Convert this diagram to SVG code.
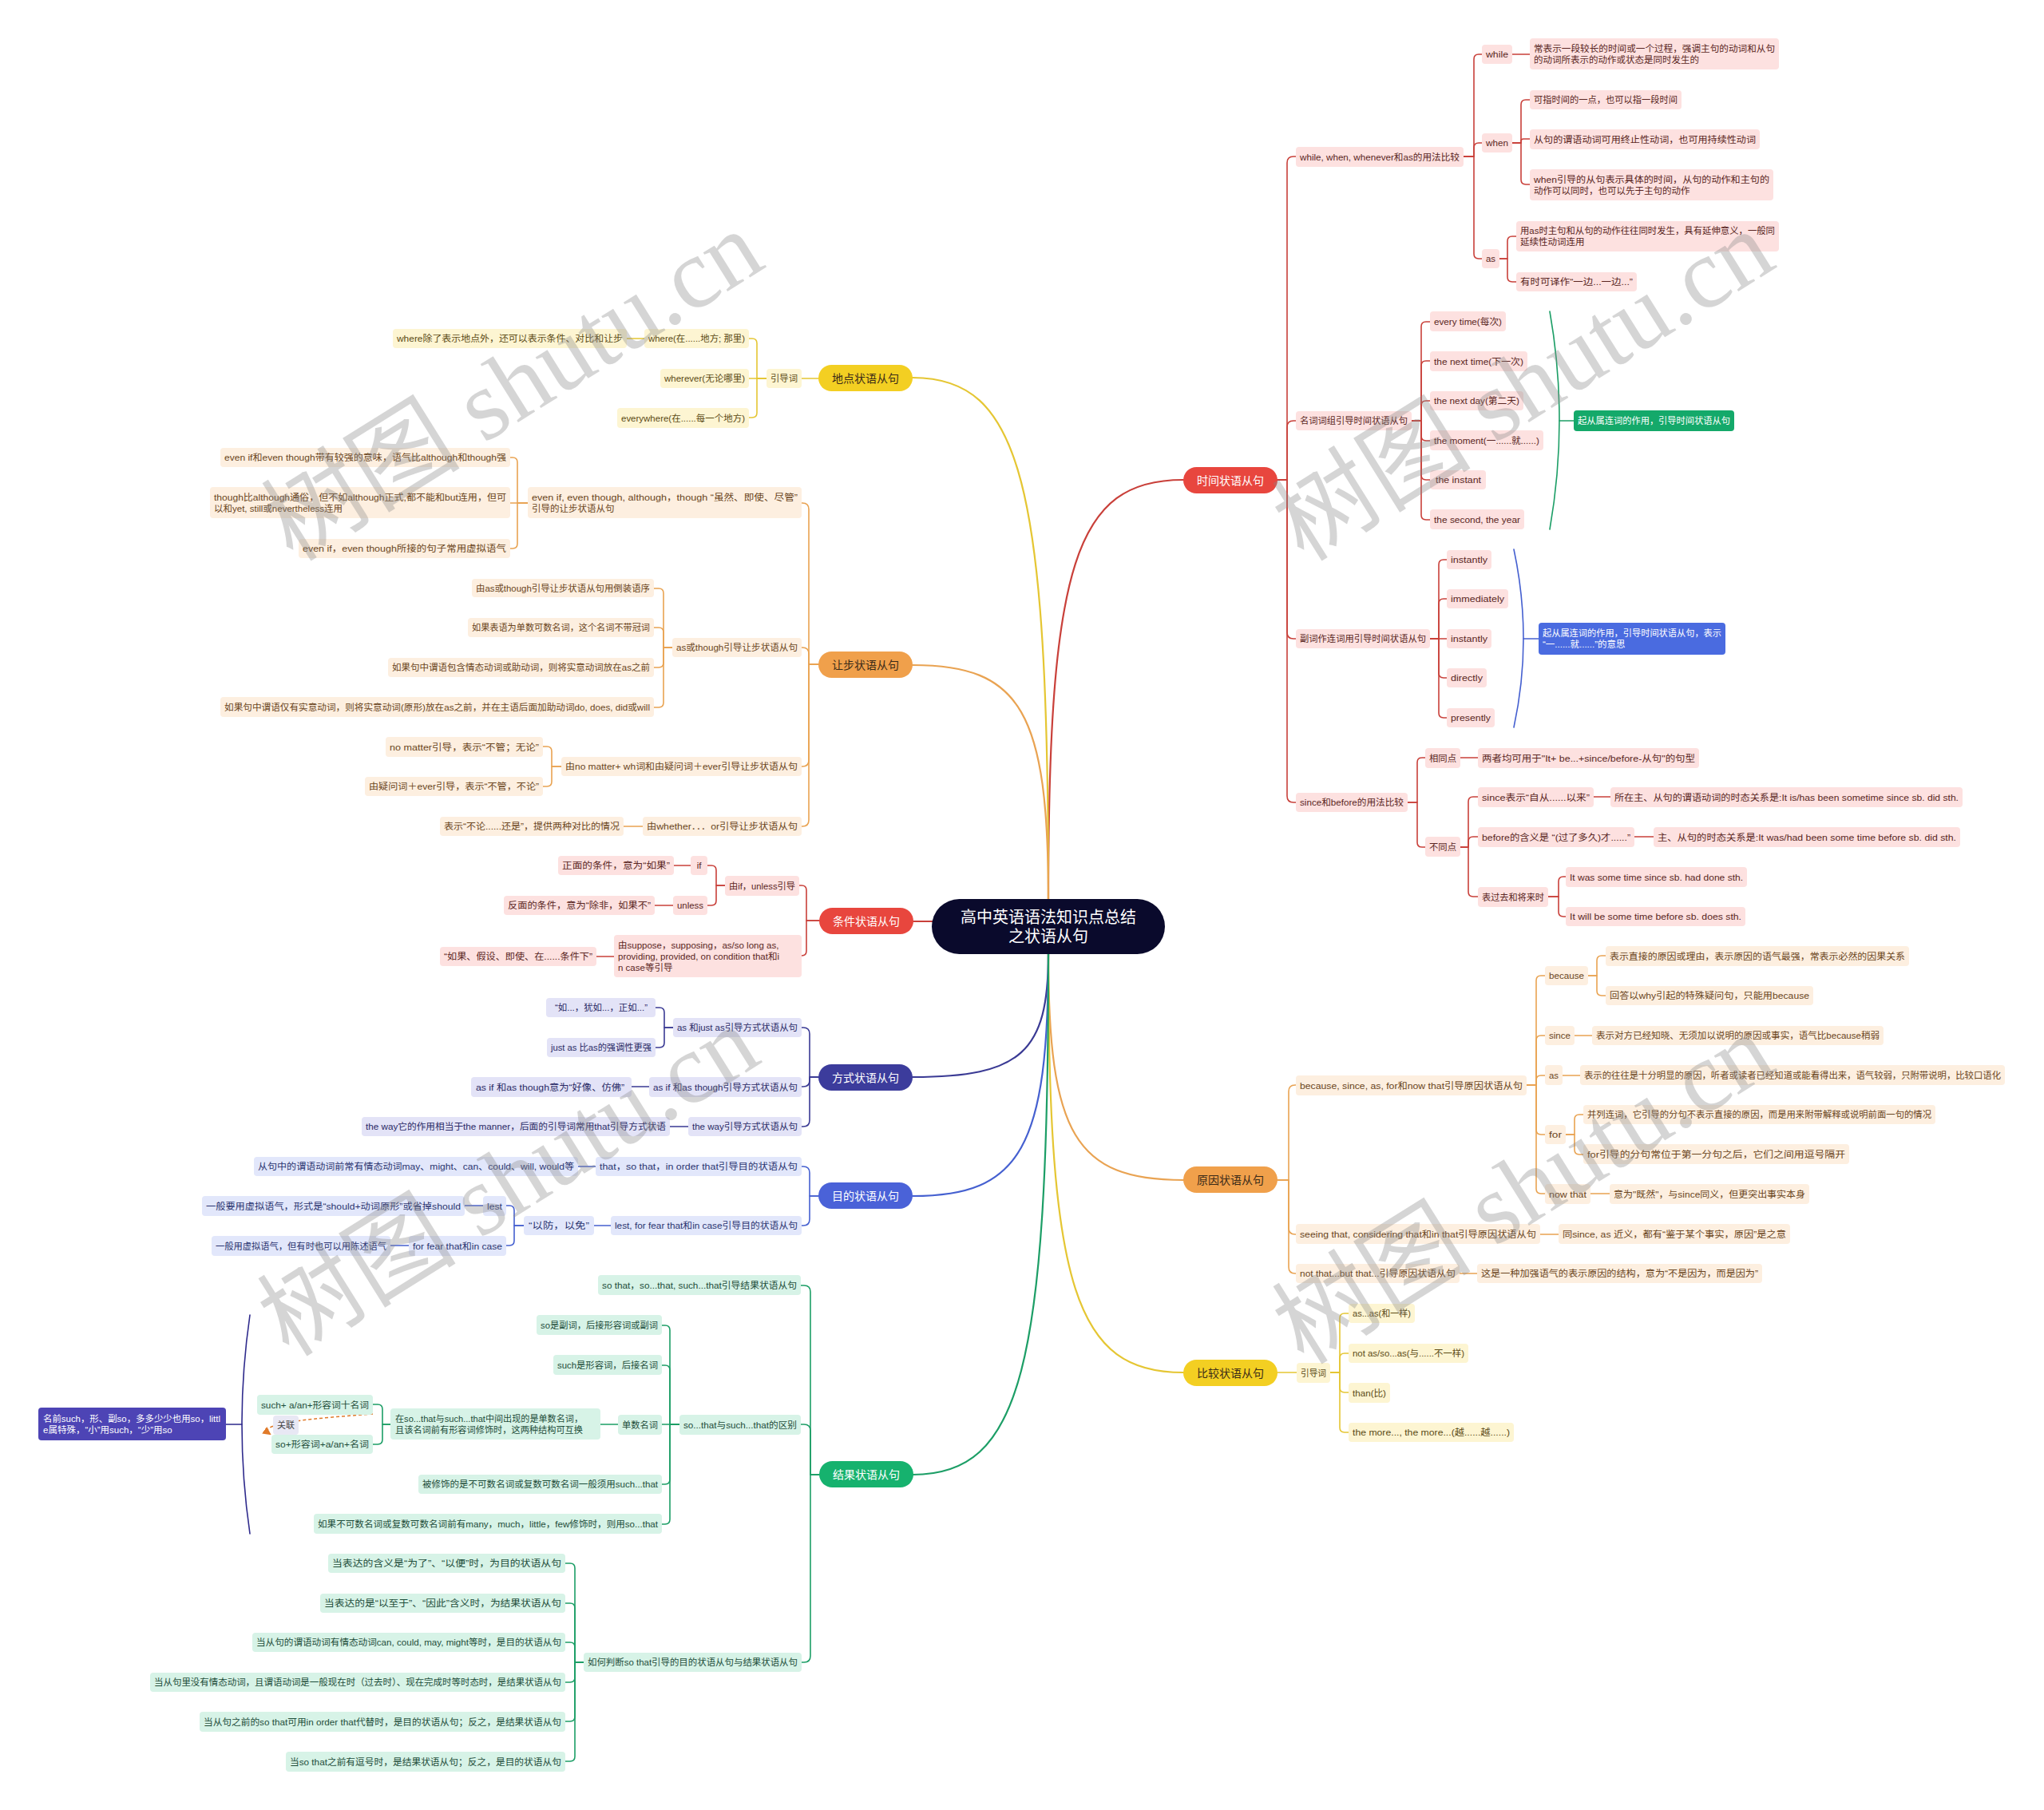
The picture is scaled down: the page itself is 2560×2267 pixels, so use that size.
<svg xmlns="http://www.w3.org/2000/svg" width="2560" height="2267" viewBox="0 0 2560 2267">
<defs>
<style>
.l{fill:none;stroke-width:1.6;stroke-linecap:round;stroke-linejoin:round}
.m{fill:none;stroke-width:2.2;stroke-linecap:round}
.lr{stroke:#c9403a}.lo{stroke:#e9a352}.ly{stroke:#e5c633}.li{stroke:#3a3a94}.lb{stroke:#4560d0}.lg{stroke:#1c9e66}.lp{stroke:#2e2a8c}
.fr{fill:#fde1e0}.fo{fill:#fdefe0}.fy{fill:#fdf5d2}.fi{fill:#e3e3f7}.fb{fill:#e2e7fb}.fg{fill:#d7f3e7}
.t{font-family:'Liberation Sans','Noto Sans CJK SC',sans-serif;font-size:11.5px;dominant-baseline:central}
.mt{font-family:'Liberation Sans','Noto Sans CJK SC',sans-serif;font-size:14px;dominant-baseline:central;text-anchor:middle}
.tr{fill:#5a2623}.to{fill:#6a4520}.ty{fill:#5b4a14}.ti{fill:#2a2a66}.tb{fill:#2a3470}.tg{fill:#1d4d3a}.tw{fill:#ffffff}.td{fill:#3a2a18}
.wm{font-family:'Liberation Serif','Noto Sans CJK SC',serif;font-size:125px;fill:#8a8a8a;opacity:0.35}
</style>
<marker id="ah" viewBox="0 0 10 10" refX="8" refY="5" markerWidth="7" markerHeight="7" orient="auto"><path d="M0,0 L10,5 L0,10 z" fill="#e07a2a"/></marker>
</defs>
<rect width="2560" height="2267" fill="#ffffff"/>

<g id="connectors">
<!-- center to main -->
<path class="m lr" d="M1313,1127 C1313,706 1347,601 1482,601"/>
<path class="m lo" d="M1313,1195 C1313,1421 1347,1478 1482,1478"/>
<path class="m ly" d="M1313,1195 C1313,1614 1347,1719 1482,1719"/>
<path class="m ly" d="M1313,1127 C1313,604 1279,473 1143,473"/>
<path class="m lo" d="M1313,1127 C1313,892 1279,833 1143,833"/>
<path class="m lr" d="M1144,1154 H1172"/>
<path class="m li" d="M1313,1195 C1313,1318 1279,1349 1143,1349"/>
<path class="m lb" d="M1313,1195 C1313,1437 1279,1498 1143,1498"/>
<path class="m lg" d="M1313,1195 C1313,1717 1279,1847 1143,1847"/>

<!-- time -->
<path class="l lr" d="M1600,601 H1612 V204 Q1612,196 1620,196 H1623"/>
<path class="l lr" d="M1600,601 H1612 V535 Q1612,527 1620,527 H1623"/>
<path class="l lr" d="M1600,601 H1612 V792 Q1612,800 1620,800 H1623"/>
<path class="l lr" d="M1600,601 H1612 V997 Q1612,1005 1620,1005 H1623"/>
<path class="l lr" d="M1833,196 H1846 V74 Q1846,68 1852,68 H1856"/>
<path class="l lr" d="M1833,196 H1846 V185 Q1846,179 1852,179 H1856"/>
<path class="l lr" d="M1833,196 H1846 V318 Q1846,324 1852,324 H1856"/>
<path class="l lr" d="M1894,68 H1916"/>
<path class="l lr" d="M1894,179 H1905 V131 Q1905,125 1911,125 H1916"/>
<path class="l lr" d="M1894,179 H1905 V177 Q1905,174 1908,174 H1916"/>
<path class="l lr" d="M1894,179 H1905 V225 Q1905,231 1911,231 H1916"/>
<path class="l lr" d="M1878,324 H1888 V302 Q1888,296 1894,296 H1899"/>
<path class="l lr" d="M1878,324 H1888 V347 Q1888,353 1894,353 H1899"/>
<path class="l lr" d="M1768,527 H1780 V409 Q1780,403 1786,403 H1791"/>
<path class="l lr" d="M1768,527 H1780 V458 Q1780,452 1786,452 H1791"/>
<path class="l lr" d="M1768,527 H1780 V508 Q1780,502 1786,502 H1791"/>
<path class="l lr" d="M1768,527 H1780 V546 Q1780,552 1786,552 H1791"/>
<path class="l lr" d="M1768,527 H1780 V595 Q1780,601 1786,601 H1791"/>
<path class="l lr" d="M1768,527 H1780 V645 Q1780,651 1786,651 H1791"/>
<path class="l lg" d="M1941,390 Q1965,526 1941,663"/>
<path class="l lg" d="M1953,527 H1971"/>
<path class="l lr" d="M1791,800 H1802 V707 Q1802,701 1808,701 H1812"/>
<path class="l lr" d="M1791,800 H1802 V756 Q1802,750 1808,750 H1812"/>
<path class="l lr" d="M1791,800 H1812"/>
<path class="l lr" d="M1791,800 H1802 V843 Q1802,849 1808,849 H1812"/>
<path class="l lr" d="M1791,800 H1802 V893 Q1802,899 1808,899 H1812"/>
<path class="l lb" d="M1896,688 Q1920,800 1896,911"/>
<path class="l lb" d="M1908,800 H1927"/>
<path class="l lr" d="M1763,1005 H1775 V955 Q1775,949 1781,949 H1785"/>
<path class="l lr" d="M1763,1005 H1775 V1055 Q1775,1061 1781,1061 H1785"/>
<path class="l lr" d="M1829,949 H1851"/>
<path class="l lr" d="M1829,1061 H1839 V1004 Q1839,998 1845,998 H1851"/>
<path class="l lr" d="M1829,1061 H1839 V1054 Q1839,1048 1845,1048 H1851"/>
<path class="l lr" d="M1829,1061 H1839 V1117 Q1839,1123 1845,1123 H1851"/>
<path class="l lr" d="M1996,998 H2017"/>
<path class="l lr" d="M2047,1048 H2071"/>
<path class="l lr" d="M1939,1123 H1952 V1104 Q1952,1098 1958,1098 H1961"/>
<path class="l lr" d="M1939,1123 H1952 V1142 Q1952,1148 1958,1148 H1961"/>

<!-- reason -->
<path class="l lo" d="M1600,1478 H1614 V1367 Q1614,1359 1622,1359 H1623"/>
<path class="l lo" d="M1600,1478 H1614 V1538 Q1614,1546 1622,1546 H1623"/>
<path class="l lo" d="M1600,1478 H1614 V1587 Q1614,1595 1622,1595 H1623"/>
<path class="l lo" d="M1912,1359 H1924 V1228 Q1924,1222 1930,1222 H1935"/>
<path class="l lo" d="M1912,1359 H1924 V1303 Q1924,1297 1930,1297 H1935"/>
<path class="l lo" d="M1912,1359 H1924 V1353 Q1924,1347 1930,1347 H1935"/>
<path class="l lo" d="M1912,1359 H1924 V1415 Q1924,1421 1930,1421 H1935"/>
<path class="l lo" d="M1912,1359 H1924 V1489 Q1924,1495 1930,1495 H1935"/>
<path class="l lo" d="M1989,1222 H2000 V1203 Q2000,1197 2006,1197 H2011"/>
<path class="l lo" d="M1989,1222 H2000 V1241 Q2000,1247 2006,1247 H2011"/>
<path class="l lo" d="M1972,1297 H1994"/>
<path class="l lo" d="M1957,1347 H1979"/>
<path class="l lo" d="M1961,1421 H1972 V1402 Q1972,1396 1978,1396 H1983"/>
<path class="l lo" d="M1961,1421 H1972 V1440 Q1972,1446 1978,1446 H1983"/>
<path class="l lo" d="M1992,1495 H2016"/>
<path class="l lo" d="M1929,1546 H1952"/>
<path class="l lo" d="M1828,1595 H1850"/>

<!-- compare -->
<path class="l ly" d="M1600,1719 H1624"/>
<path class="l ly" d="M1666,1719 H1678 V1651 Q1678,1645 1684,1645 H1689"/>
<path class="l ly" d="M1666,1719 H1678 V1701 Q1678,1695 1684,1695 H1689"/>
<path class="l ly" d="M1666,1719 H1678 V1738 Q1678,1744 1684,1744 H1689"/>
<path class="l ly" d="M1666,1719 H1678 V1788 Q1678,1794 1684,1794 H1689"/>

<!-- place -->
<path class="l ly" d="M1025,474 H1004"/>
<path class="l ly" d="M960,474 H948 V430 Q948,424 942,424 H938"/>
<path class="l ly" d="M960,474 H938"/>
<path class="l ly" d="M960,474 H948 V517 Q948,523 942,523 H938"/>
<path class="l ly" d="M807,424 H785"/>

<!-- concession -->
<path class="l lo" d="M1025,832 H1013 V638 Q1013,630 1005,630 H1004"/>
<path class="l lo" d="M1025,832 H1013 V819 Q1013,811 1005,811 H1004"/>
<path class="l lo" d="M1025,832 H1013 V952 Q1013,960 1005,960 H1004"/>
<path class="l lo" d="M1025,832 H1013 V1027 Q1013,1035 1005,1035 H1004"/>
<path class="l lo" d="M661,630 H648 V579 Q648,573 642,573 H639"/>
<path class="l lo" d="M661,630 H639"/>
<path class="l lo" d="M661,630 H648 V681 Q648,687 642,687 H639"/>
<path class="l lo" d="M842,811 H831 V743 Q831,737 825,737 H819"/>
<path class="l lo" d="M842,811 H831 V792 Q831,786 825,786 H819"/>
<path class="l lo" d="M842,811 H831 V830 Q831,836 825,836 H819"/>
<path class="l lo" d="M842,811 H831 V880 Q831,886 825,886 H819"/>
<path class="l lo" d="M703,960 H691 V941 Q691,935 685,935 H680"/>
<path class="l lo" d="M703,960 H691 V979 Q691,985 685,985 H680"/>
<path class="l lo" d="M805,1035 H781"/>

<!-- condition -->
<path class="l lr" d="M1026,1153 H1010 V1115 Q1010,1109 1004,1109 H1001"/>
<path class="l lr" d="M1026,1153 H1010 V1191 Q1010,1197 1004,1197"/>
<path class="l lr" d="M908,1109 H897 V1090 Q897,1084 891,1084 H886"/>
<path class="l lr" d="M908,1109 H897 V1128 Q897,1134 891,1134 H886"/>
<path class="l lr" d="M865,1084 H844"/>
<path class="l lr" d="M843,1134 H820"/>
<path class="l lr" d="M769,1198 H747"/>

<!-- manner -->
<path class="l li" d="M1025,1349 H1014 V1295 Q1014,1287 1006,1287 H1004"/>
<path class="l li" d="M1025,1349 H1014 V1353 Q1014,1361 1006,1361 H1004"/>
<path class="l li" d="M1025,1349 H1014 V1403 Q1014,1411 1006,1411 H1004"/>
<path class="l li" d="M843,1287 H832 V1268 Q832,1262 826,1262 H821"/>
<path class="l li" d="M843,1287 H832 V1306 Q832,1312 826,1312 H821"/>
<path class="l li" d="M813,1361 H791"/>
<path class="l li" d="M862,1411 H839"/>

<!-- purpose -->
<path class="l lb" d="M1025,1498 H1014 V1469 Q1014,1461 1006,1461 H1004"/>
<path class="l lb" d="M1025,1498 H1014 V1527 Q1014,1535 1006,1535 H1004"/>
<path class="l lb" d="M746,1461 H724"/>
<path class="l lb" d="M765,1535 H744"/>
<path class="l lb" d="M656,1535 H644 V1516 Q644,1510 638,1510 H634"/>
<path class="l lb" d="M656,1535 H644 V1554 Q644,1560 638,1560 H634"/>
<path class="l lb" d="M605,1510 H582"/>
<path class="l lb" d="M512,1560 H489"/>

<!-- result -->
<path class="l lg" d="M1026,1847 H1015 V1618 Q1015,1610 1007,1610 H1003"/>
<path class="l lg" d="M1026,1847 H1015 V1792 Q1015,1784 1007,1784 H1003"/>
<path class="l lg" d="M1026,1847 H1015 V2074 Q1015,2082 1007,2082 H1004"/>
<path class="l lg" d="M851,1784 H839 V1666 Q839,1660 833,1660 H829"/>
<path class="l lg" d="M851,1784 H839 V1716 Q839,1710 833,1710 H829"/>
<path class="l lg" d="M851,1784 H829"/>
<path class="l lg" d="M851,1784 H839 V1853 Q839,1859 833,1859 H829"/>
<path class="l lg" d="M851,1784 H839 V1903 Q839,1909 833,1909 H829"/>
<path class="l lg" d="M774,1784 H752"/>
<path class="l lg" d="M489,1784 H479 V1765 Q479,1759 473,1759 H467"/>
<path class="l lg" d="M489,1784 H479 V1803 Q479,1809 473,1809 H467"/>
<path class="l lg" d="M731,2082 H720 V1964 Q720,1958 714,1958 H708"/>
<path class="l lg" d="M731,2082 H720 V2014 Q720,2008 714,2008 H708"/>
<path class="l lg" d="M731,2082 H720 V2063 Q720,2057 714,2057 H708"/>
<path class="l lg" d="M731,2082 H720 V2101 Q720,2107 714,2107 H708"/>
<path class="l lg" d="M731,2082 H720 V2150 Q720,2156 714,2156 H708"/>
<path class="l lg" d="M731,2082 H720 V2200 Q720,2206 714,2206 H708"/>
<path class="l lp" d="M313,1647 Q293,1784 313,1921"/>
<path class="l lp" d="M283,1784 H303"/>
<path d="M467,1771 C400,1776 318,1782 338,1796" fill="none" stroke="#e07a2a" stroke-width="1.5" stroke-dasharray="4 3" marker-end="url(#ah)"/>
</g>

<g id="center"><rect x="1167" y="1126" width="292" height="69" rx="34.5" fill="#0a0a2c"/>
<text x="1313" y="1149" font-family="'Liberation Sans','Noto Sans CJK SC',sans-serif" font-size="20" fill="#ffffff" text-anchor="middle" dominant-baseline="central">高中英语语法知识点总结</text>
<text x="1313" y="1173" font-family="'Liberation Sans','Noto Sans CJK SC',sans-serif" font-size="20" fill="#ffffff" text-anchor="middle" dominant-baseline="central">之状语从句</text></g>

<!-- main nodes -->
<g id="m-time"><rect x="1482" y="585" width="118" height="33" rx="16.5" fill="#e8463e"/><text class="mt tw" x="1541" y="601.5">时间状语从句</text></g>
<g id="m-reason"><rect x="1482" y="1461" width="118" height="33" rx="16.5" fill="#f0a04b"/><text class="mt td" x="1541" y="1477.5">原因状语从句</text></g>
<g id="m-compare"><rect x="1482" y="1703" width="118" height="33" rx="16.5" fill="#f3cf22"/><text class="mt td" x="1541" y="1719.5">比较状语从句</text></g>
<g id="m-place"><rect x="1025" y="457" width="118" height="33" rx="16.5" fill="#f3cf22"/><text class="mt td" x="1084" y="473.5">地点状语从句</text></g>
<g id="m-concession"><rect x="1025" y="816" width="118" height="33" rx="16.5" fill="#f0a04b"/><text class="mt td" x="1084" y="832.5">让步状语从句</text></g>
<g id="m-condition"><rect x="1026" y="1137" width="118" height="33" rx="16.5" fill="#e8463e"/><text class="mt tw" x="1085" y="1153.5">条件状语从句</text></g>
<g id="m-manner"><rect x="1025" y="1333" width="118" height="33" rx="16.5" fill="#3c3c9c"/><text class="mt tw" x="1084" y="1349.5">方式状语从句</text></g>
<g id="m-purpose"><rect x="1025" y="1481" width="118" height="33" rx="16.5" fill="#4a62d8"/><text class="mt tw" x="1084" y="1497.5">目的状语从句</text></g>
<g id="m-result"><rect x="1026" y="1830" width="118" height="33" rx="16.5" fill="#16b26e"/><text class="mt tw" x="1085" y="1846.5">结果状语从句</text></g>

<!-- time subnodes -->
<g id="t1"><rect class="fr" x="1623" y="184" width="210" height="25" rx="4"/><text class="t tr" x="1628" y="196.5" textLength="200" lengthAdjust="spacingAndGlyphs">while, when, whenever和as的用法比较</text></g>
<g id="t2"><rect class="fr" x="1856" y="56" width="38" height="24" rx="4"/><text class="t tr" x="1861" y="68" textLength="28" lengthAdjust="spacingAndGlyphs">while</text></g>
<g id="t3"><rect class="fr" x="1916" y="48" width="312" height="39" rx="4"/><text class="t tr" x="1921" y="61" textLength="302" lengthAdjust="spacingAndGlyphs">常表示一段较长的时间或一个过程，强调主句的动词和从句</text><text class="t tr" x="1921" y="75">的动词所表示的动作或状态是同时发生的</text></g>
<g id="t4"><rect class="fr" x="1856" y="167" width="38" height="24" rx="4"/><text class="t tr" x="1861" y="179" textLength="28" lengthAdjust="spacingAndGlyphs">when</text></g>
<g id="t5"><rect class="fr" x="1916" y="113" width="190" height="24" rx="4"/><text class="t tr" x="1921" y="125" textLength="180" lengthAdjust="spacingAndGlyphs">可指时间的一点，也可以指一段时间</text></g>
<g id="t6"><rect class="fr" x="1916" y="162" width="288" height="25" rx="4"/><text class="t tr" x="1921" y="174.5" textLength="278" lengthAdjust="spacingAndGlyphs">从句的谓语动词可用终止性动词，也可用持续性动词</text></g>
<g id="t7"><rect class="fr" x="1916" y="212" width="305" height="39" rx="4"/><text class="t tr" x="1921" y="225" textLength="295" lengthAdjust="spacingAndGlyphs">when引导的从句表示具体的时间，从句的动作和主句的</text><text class="t tr" x="1921" y="239">动作可以同时，也可以先于主句的动作</text></g>
<g id="t8"><rect class="fr" x="1856" y="312" width="22" height="24" rx="4"/><text class="t tr" x="1861" y="324" textLength="12" lengthAdjust="spacingAndGlyphs">as</text></g>
<g id="t9"><rect class="fr" x="1899" y="277" width="329" height="38" rx="4"/><text class="t tr" x="1904" y="289" textLength="319" lengthAdjust="spacingAndGlyphs">用as时主句和从句的动作往往同时发生，具有延伸意义，一般同</text><text class="t tr" x="1904" y="303">延续性动词连用</text></g>
<g id="t10"><rect class="fr" x="1899" y="341" width="151" height="24" rx="4"/><text class="t tr" x="1904" y="353" textLength="141" lengthAdjust="spacingAndGlyphs">有时可译作“一边...一边...”</text></g>
<g id="t11"><rect class="fr" x="1623" y="515" width="145" height="24" rx="4"/><text class="t tr" x="1628" y="527" textLength="135" lengthAdjust="spacingAndGlyphs">名词词组引导时间状语从句</text></g>
<g id="t12"><rect class="fr" x="1791" y="390" width="95" height="25" rx="4"/><text class="t tr" x="1796" y="402.5" textLength="85" lengthAdjust="spacingAndGlyphs">every time(每次)</text></g>
<g id="t13"><rect class="fr" x="1791" y="440" width="122" height="25" rx="4"/><text class="t tr" x="1796" y="452.5" textLength="112" lengthAdjust="spacingAndGlyphs">the next time(下一次)</text></g>
<g id="t14"><rect class="fr" x="1791" y="490" width="117" height="24" rx="4"/><text class="t tr" x="1796" y="502" textLength="107" lengthAdjust="spacingAndGlyphs">the next day(第二天)</text></g>
<g id="t15"><rect class="fr" x="1791" y="539" width="142" height="25" rx="4"/><text class="t tr" x="1796" y="551.5" textLength="132" lengthAdjust="spacingAndGlyphs">the moment(一......就......)</text></g>
<g id="t16"><rect class="fr" x="1791" y="589" width="70" height="24" rx="4"/><text class="t tr" x="1798" y="601" textLength="57" lengthAdjust="spacingAndGlyphs">the instant</text></g>
<g id="t17"><rect class="fr" x="1791" y="638" width="118" height="25" rx="4"/><text class="t tr" x="1796" y="650.5" textLength="108" lengthAdjust="spacingAndGlyphs">the second, the year</text></g>
<g id="t18"><rect x="1971" y="514" width="201" height="26" rx="4" fill="#14a96a"/><text class="t tw" x="1976" y="527" textLength="191" lengthAdjust="spacingAndGlyphs">起从属连词的作用，引导时间状语从句</text></g>
<g id="t19"><rect class="fr" x="1623" y="788" width="168" height="24" rx="4"/><text class="t tr" x="1628" y="800" textLength="158" lengthAdjust="spacingAndGlyphs">副词作连词用引导时间状语从句</text></g>
<g id="t20"><rect class="fr" x="1812" y="689" width="56" height="24" rx="4"/><text class="t tr" x="1817" y="701" textLength="46" lengthAdjust="spacingAndGlyphs">instantly</text></g>
<g id="t21"><rect class="fr" x="1812" y="738" width="77" height="24" rx="4"/><text class="t tr" x="1817" y="750" textLength="67" lengthAdjust="spacingAndGlyphs">immediately</text></g>
<g id="t22"><rect class="fr" x="1812" y="788" width="56" height="24" rx="4"/><text class="t tr" x="1817" y="800" textLength="46" lengthAdjust="spacingAndGlyphs">instantly</text></g>
<g id="t23"><rect class="fr" x="1812" y="837" width="50" height="24" rx="4"/><text class="t tr" x="1817" y="849" textLength="40" lengthAdjust="spacingAndGlyphs">directly</text></g>
<g id="t24"><rect class="fr" x="1812" y="887" width="60" height="24" rx="4"/><text class="t tr" x="1817" y="899" textLength="50" lengthAdjust="spacingAndGlyphs">presently</text></g>
<g id="t25"><rect x="1927" y="780" width="234" height="40" rx="4" fill="#4a6be0"/><text class="t tw" x="1932" y="793" textLength="224" lengthAdjust="spacingAndGlyphs">起从属连词的作用，引导时间状语从句，表示</text><text class="t tw" x="1932" y="807">“一......就......”的意思</text></g>
<g id="t26"><rect class="fr" x="1623" y="993" width="140" height="24" rx="4"/><text class="t tr" x="1628" y="1005" textLength="130" lengthAdjust="spacingAndGlyphs">since和before的用法比较</text></g>
<g id="t27"><rect class="fr" x="1785" y="937" width="44" height="25" rx="4"/><text class="t tr" x="1790" y="949.5" textLength="34" lengthAdjust="spacingAndGlyphs">相同点</text></g>
<g id="t28"><rect class="fr" x="1851" y="937" width="277" height="25" rx="4"/><text class="t tr" x="1856" y="949.5" textLength="267" lengthAdjust="spacingAndGlyphs">两者均可用于"It+ be...+since/before-从句"的句型</text></g>
<g id="t29"><rect class="fr" x="1785" y="1048" width="44" height="25" rx="4"/><text class="t tr" x="1790" y="1060.5" textLength="34" lengthAdjust="spacingAndGlyphs">不同点</text></g>
<g id="t30"><rect class="fr" x="1851" y="986" width="145" height="25" rx="4"/><text class="t tr" x="1856" y="998.5" textLength="135" lengthAdjust="spacingAndGlyphs">since表示“自从......以来”</text></g>
<g id="t31"><rect class="fr" x="2017" y="986" width="441" height="25" rx="4"/><text class="t tr" x="2022" y="998.5" textLength="431" lengthAdjust="spacingAndGlyphs">所在主、从句的谓语动词的时态关系是:It is/has been sometime since sb. did sth.</text></g>
<g id="t32"><rect class="fr" x="1851" y="1036" width="196" height="25" rx="4"/><text class="t tr" x="1856" y="1048.5" textLength="186" lengthAdjust="spacingAndGlyphs">before的含义是 “(过了多久)才......”</text></g>
<g id="t33"><rect class="fr" x="2071" y="1036" width="384" height="25" rx="4"/><text class="t tr" x="2076" y="1048.5" textLength="374" lengthAdjust="spacingAndGlyphs">主、从句的时态关系是:It was/had been some time before sb. did sth.</text></g>
<g id="t34"><rect class="fr" x="1851" y="1111" width="88" height="25" rx="4"/><text class="t tr" x="1856" y="1123.5" textLength="78" lengthAdjust="spacingAndGlyphs">表过去和将来时</text></g>
<g id="t35"><rect class="fr" x="1961" y="1086" width="227" height="25" rx="4"/><text class="t tr" x="1966" y="1098.5" textLength="217" lengthAdjust="spacingAndGlyphs">It was some time since sb. had done sth.</text></g>
<g id="t36"><rect class="fr" x="1961" y="1136" width="225" height="24" rx="4"/><text class="t tr" x="1966" y="1148" textLength="215" lengthAdjust="spacingAndGlyphs">It will be some time before sb. does sth.</text></g>

<!-- reason subnodes -->
<g id="o1"><rect class="fo" x="1623" y="1347" width="289" height="25" rx="4"/><text class="t to" x="1628" y="1359.5" textLength="279" lengthAdjust="spacingAndGlyphs">because, since, as, for和now that引导原因状语从句</text></g>
<g id="o2"><rect class="fo" x="1935" y="1210" width="54" height="24" rx="4"/><text class="t to" x="1940" y="1222" textLength="44" lengthAdjust="spacingAndGlyphs">because</text></g>
<g id="o3"><rect class="fo" x="2011" y="1185" width="380" height="25" rx="4"/><text class="t to" x="2016" y="1197.5" textLength="370" lengthAdjust="spacingAndGlyphs">表示直接的原因或理由，表示原因的语气最强，常表示必然的因果关系</text></g>
<g id="o4"><rect class="fo" x="2011" y="1235" width="260" height="24" rx="4"/><text class="t to" x="2016" y="1247" textLength="250" lengthAdjust="spacingAndGlyphs">回答以why引起的特殊疑问句，只能用because</text></g>
<g id="o5"><rect class="fo" x="1935" y="1285" width="37" height="24" rx="4"/><text class="t to" x="1940" y="1297" textLength="27" lengthAdjust="spacingAndGlyphs">since</text></g>
<g id="o6"><rect class="fo" x="1994" y="1285" width="365" height="24" rx="4"/><text class="t to" x="1999" y="1297" textLength="355" lengthAdjust="spacingAndGlyphs">表示对方已经知晓、无须加以说明的原因或事实，语气比because稍弱</text></g>
<g id="o7"><rect class="fo" x="1935" y="1334" width="22" height="25" rx="4"/><text class="t to" x="1940" y="1346.5" textLength="12" lengthAdjust="spacingAndGlyphs">as</text></g>
<g id="o8"><rect class="fo" x="1979" y="1334" width="532" height="25" rx="4"/><text class="t to" x="1984" y="1346.5" textLength="522" lengthAdjust="spacingAndGlyphs">表示的往往是十分明显的原因，听者或读者已经知道或能看得出来，语气较弱，只附带说明，比较口语化</text></g>
<g id="o9"><rect class="fo" x="1935" y="1409" width="26" height="24" rx="4"/><text class="t to" x="1940" y="1421" textLength="16" lengthAdjust="spacingAndGlyphs">for</text></g>
<g id="o10"><rect class="fo" x="1983" y="1384" width="441" height="24" rx="4"/><text class="t to" x="1988" y="1396" textLength="431" lengthAdjust="spacingAndGlyphs">并列连词，它引导的分句不表示直接的原因，而是用来附带解释或说明前面一句的情况</text></g>
<g id="o11"><rect class="fo" x="1983" y="1433" width="333" height="25" rx="4"/><text class="t to" x="1988" y="1445.5" textLength="323" lengthAdjust="spacingAndGlyphs">for引导的分句常位于第一分句之后，它们之间用逗号隔开</text></g>
<g id="o12"><rect class="fo" x="1935" y="1483" width="57" height="25" rx="4"/><text class="t to" x="1940" y="1495.5" textLength="47" lengthAdjust="spacingAndGlyphs">now that</text></g>
<g id="o13"><rect class="fo" x="2016" y="1483" width="250" height="25" rx="4"/><text class="t to" x="2021" y="1495.5" textLength="240" lengthAdjust="spacingAndGlyphs">意为"既然"，与since同义，但更突出事实本身</text></g>
<g id="o14"><rect class="fo" x="1623" y="1533" width="306" height="25" rx="4"/><text class="t to" x="1628" y="1545.5" textLength="296" lengthAdjust="spacingAndGlyphs">seeing that, considering that和in that引导原因状语从句</text></g>
<g id="o15"><rect class="fo" x="1952" y="1533" width="290" height="25" rx="4"/><text class="t to" x="1957" y="1545.5" textLength="280" lengthAdjust="spacingAndGlyphs">同since, as 近义，都有“鉴于某个事实，原因”是之意</text></g>
<g id="o16"><rect class="fo" x="1623" y="1583" width="205" height="24" rx="4"/><text class="t to" x="1628" y="1595" textLength="195" lengthAdjust="spacingAndGlyphs">not that...but that...引导原因状语从句</text></g>
<g id="o17"><rect class="fo" x="1850" y="1583" width="357" height="24" rx="4"/><text class="t to" x="1855" y="1595" textLength="347" lengthAdjust="spacingAndGlyphs">这是一种加强语气的表示原因的结构，意为“不是因为，而是因为”</text></g>

<!-- compare subnodes -->
<g id="y1"><rect class="fy" x="1624" y="1707" width="42" height="25" rx="4"/><text class="t ty" x="1629" y="1719.5" textLength="32" lengthAdjust="spacingAndGlyphs">引导词</text></g>
<g id="y2"><rect class="fy" x="1689" y="1633" width="83" height="24" rx="4"/><text class="t ty" x="1694" y="1645" textLength="73" lengthAdjust="spacingAndGlyphs">as...as(和一样)</text></g>
<g id="y3"><rect class="fy" x="1689" y="1683" width="150" height="24" rx="4"/><text class="t ty" x="1694" y="1695" textLength="140" lengthAdjust="spacingAndGlyphs">not as/so...as(与......不一样)</text></g>
<g id="y4"><rect class="fy" x="1689" y="1732" width="52" height="25" rx="4"/><text class="t ty" x="1694" y="1744.5" textLength="42" lengthAdjust="spacingAndGlyphs">than(比)</text></g>
<g id="y5"><rect class="fy" x="1689" y="1782" width="207" height="24" rx="4"/><text class="t ty" x="1694" y="1794" textLength="197" lengthAdjust="spacingAndGlyphs">the more..., the more...(越......越......)</text></g>

<!-- place subnodes -->
<g id="p1"><rect class="fy" x="960" y="462" width="44" height="24" rx="4"/><text class="t ty" x="965" y="474" textLength="34" lengthAdjust="spacingAndGlyphs">引导词</text></g>
<g id="p2"><rect class="fy" x="807" y="412" width="131" height="24" rx="4"/><text class="t ty" x="812" y="424" textLength="121" lengthAdjust="spacingAndGlyphs">where(在......地方; 那里)</text></g>
<g id="p3"><rect class="fy" x="492" y="412" width="293" height="24" rx="4"/><text class="t ty" x="497" y="424" textLength="283" lengthAdjust="spacingAndGlyphs">where除了表示地点外，还可以表示条件、对比和让步</text></g>
<g id="p4"><rect class="fy" x="827" y="462" width="111" height="24" rx="4"/><text class="t ty" x="832" y="474" textLength="101" lengthAdjust="spacingAndGlyphs">wherever(无论哪里)</text></g>
<g id="p5"><rect class="fy" x="773" y="511" width="165" height="25" rx="4"/><text class="t ty" x="778" y="523.5" textLength="155" lengthAdjust="spacingAndGlyphs">everywhere(在......每一个地方)</text></g>

<!-- concession subnodes -->
<g id="r1"><rect class="fo" x="661" y="610" width="343" height="39" rx="4"/><text class="t to" x="666" y="623" textLength="333" lengthAdjust="spacingAndGlyphs">even if, even though, although，though “虽然、即使、尽管”</text><text class="t to" x="666" y="637">引导的让步状语从句</text></g>
<g id="r2"><rect class="fo" x="276" y="561" width="363" height="24" rx="4"/><text class="t to" x="281" y="573" textLength="353" lengthAdjust="spacingAndGlyphs">even if和even though带有较强的意味，语气比although和though强</text></g>
<g id="r3"><rect class="fo" x="263" y="610" width="376" height="39" rx="4"/><text class="t to" x="268" y="623" textLength="366" lengthAdjust="spacingAndGlyphs">though比although通俗，但不如although正式,都不能和but连用，但可</text><text class="t to" x="268" y="637">以和yet, still或nevertheless连用</text></g>
<g id="r4"><rect class="fo" x="374" y="675" width="265" height="24" rx="4"/><text class="t to" x="379" y="687" textLength="255" lengthAdjust="spacingAndGlyphs">even if，even though所接的句子常用虚拟语气</text></g>
<g id="r5"><rect class="fo" x="842" y="799" width="162" height="24" rx="4"/><text class="t to" x="847" y="811" textLength="152" lengthAdjust="spacingAndGlyphs">as或though引导让步状语从句</text></g>
<g id="r6"><rect class="fo" x="591" y="725" width="228" height="23" rx="4"/><text class="t to" x="596" y="736.5" textLength="218" lengthAdjust="spacingAndGlyphs">由as或though引导让步状语从句用倒装语序</text></g>
<g id="r7"><rect class="fo" x="586" y="774" width="233" height="24" rx="4"/><text class="t to" x="591" y="786" textLength="223" lengthAdjust="spacingAndGlyphs">如果表语为单数可数名词，这个名词不带冠词</text></g>
<g id="r8"><rect class="fo" x="486" y="824" width="333" height="24" rx="4"/><text class="t to" x="491" y="836" textLength="323" lengthAdjust="spacingAndGlyphs">如果句中谓语包含情态动词或助动词，则将实意动词放在as之前</text></g>
<g id="r9"><rect class="fo" x="276" y="873" width="543" height="25" rx="4"/><text class="t to" x="281" y="885.5" textLength="533" lengthAdjust="spacingAndGlyphs">如果句中谓语仅有实意动词，则将实意动词(原形)放在as之前，并在主语后面加助动词do, does, did或will</text></g>
<g id="r10"><rect class="fo" x="703" y="948" width="301" height="24" rx="4"/><text class="t to" x="708" y="960" textLength="291" lengthAdjust="spacingAndGlyphs">由no matter+ wh词和由疑问词＋ever引导让步状语从句</text></g>
<g id="r11"><rect class="fo" x="483" y="923" width="197" height="25" rx="4"/><text class="t to" x="488" y="935.5" textLength="187" lengthAdjust="spacingAndGlyphs">no matter引导，表示“不管；无论”</text></g>
<g id="r12"><rect class="fo" x="457" y="973" width="223" height="24" rx="4"/><text class="t to" x="462" y="985" textLength="213" lengthAdjust="spacingAndGlyphs">由疑问词＋ever引导，表示“不管，不论”</text></g>
<g id="r13"><rect class="fo" x="805" y="1023" width="199" height="24" rx="4"/><text class="t to" x="810" y="1035" textLength="189" lengthAdjust="spacingAndGlyphs">由whether．．．or引导让步状语从句</text></g>
<g id="r14"><rect class="fo" x="551" y="1023" width="230" height="24" rx="4"/><text class="t to" x="556" y="1035" textLength="220" lengthAdjust="spacingAndGlyphs">表示“不论......还是”，提供两种对比的情况</text></g>

<!-- condition subnodes -->
<g id="c1"><rect class="fr" x="908" y="1097" width="93" height="25" rx="4"/><text class="t tr" x="913" y="1109.5" textLength="83" lengthAdjust="spacingAndGlyphs">由if，unless引导</text></g>
<g id="c2"><rect class="fr" x="865" y="1072" width="21" height="24" rx="4"/><text class="t tr" x="875.5" y="1084" text-anchor="middle">if</text></g>
<g id="c3"><rect class="fr" x="699" y="1072" width="145" height="24" rx="4"/><text class="t tr" x="704" y="1084" textLength="135" lengthAdjust="spacingAndGlyphs">正面的条件，意为“如果”</text></g>
<g id="c4"><rect class="fr" x="843" y="1122" width="43" height="24" rx="4"/><text class="t tr" x="848" y="1134" textLength="33" lengthAdjust="spacingAndGlyphs">unless</text></g>
<g id="c5"><rect class="fr" x="631" y="1122" width="189" height="24" rx="4"/><text class="t tr" x="636" y="1134" textLength="179" lengthAdjust="spacingAndGlyphs">反面的条件，意为“除非，如果不”</text></g>
<g id="c6"><rect class="fr" x="769" y="1171" width="235" height="53" rx="4"/><text class="t tr" x="774" y="1184">由suppose，supposing，as/so long as,</text><text class="t tr" x="774" y="1198">providing, provided, on condition that和i</text><text class="t tr" x="774" y="1212">n case等引导</text></g>
<g id="c7"><rect class="fr" x="551" y="1186" width="196" height="24" rx="4"/><text class="t tr" x="556" y="1198" textLength="186" lengthAdjust="spacingAndGlyphs">“如果、假设、即使、在......条件下”</text></g>

<!-- manner subnodes -->
<g id="f1"><rect class="fi" x="843" y="1275" width="161" height="24" rx="4"/><text class="t ti" x="848" y="1287" textLength="151" lengthAdjust="spacingAndGlyphs">as 和just as引导方式状语从句</text></g>
<g id="f2"><rect class="fi" x="684" y="1250" width="137" height="24" rx="4"/><text class="t ti" x="695" y="1262" textLength="116" lengthAdjust="spacingAndGlyphs">“如...，犹如...，正如...”</text></g>
<g id="f3"><rect class="fi" x="685" y="1300" width="136" height="24" rx="4"/><text class="t ti" x="690" y="1312" textLength="126" lengthAdjust="spacingAndGlyphs">just as 比as的强调性更强</text></g>
<g id="f4"><rect class="fi" x="813" y="1349" width="191" height="25" rx="4"/><text class="t ti" x="818" y="1361.5" textLength="181" lengthAdjust="spacingAndGlyphs">as if 和as though引导方式状语从句</text></g>
<g id="f5"><rect class="fi" x="590" y="1349" width="201" height="25" rx="4"/><text class="t ti" x="596" y="1361.5" textLength="186" lengthAdjust="spacingAndGlyphs">as if 和as though意为“好像、仿佛”</text></g>
<g id="f6"><rect class="fi" x="862" y="1399" width="142" height="24" rx="4"/><text class="t ti" x="867" y="1411" textLength="132" lengthAdjust="spacingAndGlyphs">the way引导方式状语从句</text></g>
<g id="f7"><rect class="fi" x="453" y="1399" width="386" height="24" rx="4"/><text class="t ti" x="458" y="1411" textLength="376" lengthAdjust="spacingAndGlyphs">the way它的作用相当于the manner，后面的引导词常用that引导方式状语</text></g>

<!-- purpose subnodes -->
<g id="g1"><rect class="fb" x="746" y="1449" width="258" height="24" rx="4"/><text class="t tb" x="751" y="1461" textLength="248" lengthAdjust="spacingAndGlyphs">that，so that，in order that引导目的状语从句</text></g>
<g id="g2"><rect class="fb" x="318" y="1449" width="406" height="24" rx="4"/><text class="t tb" x="323" y="1461" textLength="396" lengthAdjust="spacingAndGlyphs">从句中的谓语动词前常有情态动词may、might、can、could、will, would等</text></g>
<g id="g3"><rect class="fb" x="765" y="1523" width="239" height="24" rx="4"/><text class="t tb" x="770" y="1535" textLength="229" lengthAdjust="spacingAndGlyphs">lest, for fear that和in case引导目的状语从句</text></g>
<g id="g4"><rect class="fb" x="656" y="1523" width="88" height="24" rx="4"/><text class="t tb" x="662" y="1535" textLength="76" lengthAdjust="spacingAndGlyphs">“以防，以免”</text></g>
<g id="g5"><rect class="fb" x="605" y="1498" width="29" height="25" rx="4"/><text class="t tb" x="610" y="1510.5" textLength="19" lengthAdjust="spacingAndGlyphs">lest</text></g>
<g id="g6"><rect class="fb" x="253" y="1498" width="329" height="25" rx="4"/><text class="t tb" x="258" y="1510.5" textLength="319" lengthAdjust="spacingAndGlyphs">一般要用虚拟语气，形式是“should+动词原形”或省掉should</text></g>
<g id="g7"><rect class="fb" x="512" y="1548" width="122" height="25" rx="4"/><text class="t tb" x="517" y="1560.5" textLength="112" lengthAdjust="spacingAndGlyphs">for fear that和in case</text></g>
<g id="g8"><rect class="fb" x="265" y="1548" width="224" height="25" rx="4"/><text class="t tb" x="270" y="1560.5" textLength="214" lengthAdjust="spacingAndGlyphs">一般用虚拟语气，但有时也可以用陈述语气</text></g>

<!-- result subnodes -->
<g id="k1"><rect class="fg" x="749" y="1597" width="254" height="25" rx="4"/><text class="t tg" x="754" y="1609.5" textLength="244" lengthAdjust="spacingAndGlyphs">so that，so...that, such...that引导结果状语从句</text></g>
<g id="k2"><rect class="fg" x="851" y="1772" width="152" height="25" rx="4"/><text class="t tg" x="856" y="1784.5" textLength="142" lengthAdjust="spacingAndGlyphs">so...that与such...that的区别</text></g>
<g id="k3"><rect class="fg" x="672" y="1647" width="157" height="25" rx="4"/><text class="t tg" x="677" y="1659.5" textLength="147" lengthAdjust="spacingAndGlyphs">so是副词，后接形容词或副词</text></g>
<g id="k4"><rect class="fg" x="693" y="1697" width="136" height="25" rx="4"/><text class="t tg" x="698" y="1709.5" textLength="126" lengthAdjust="spacingAndGlyphs">such是形容词，后接名词</text></g>
<g id="k5"><rect class="fg" x="774" y="1772" width="55" height="25" rx="4"/><text class="t tg" x="779" y="1784.5" textLength="45" lengthAdjust="spacingAndGlyphs">单数名词</text></g>
<g id="k6"><rect class="fg" x="489" y="1764" width="263" height="39" rx="4"/><text class="t tg" x="495" y="1777" textLength="235" lengthAdjust="spacingAndGlyphs">在so...that与such...that中间出现的是单数名词，</text><text class="t tg" x="495" y="1791" textLength="235" lengthAdjust="spacingAndGlyphs">且该名词前有形容词修饰时，这两种结构可互换</text></g>
<g id="k7"><rect class="fg" x="322" y="1747" width="145" height="25" rx="4"/><text class="t tg" x="327" y="1759.5" textLength="135" lengthAdjust="spacingAndGlyphs">such+ a/an+形容词十名词</text></g>
<g id="k8"><rect class="fg" x="340" y="1797" width="127" height="24" rx="4"/><text class="t tg" x="345" y="1809" textLength="117" lengthAdjust="spacingAndGlyphs">so+形容词+a/an+名词</text></g>
<g id="k9"><rect x="342" y="1773" width="32" height="24" rx="4" fill="#e8e8f4"/><text class="t" x="347" y="1785" fill="#444" textLength="22" lengthAdjust="spacingAndGlyphs">关联</text></g>
<g id="k10"><rect class="fg" x="524" y="1847" width="305" height="24" rx="4"/><text class="t tg" x="529" y="1859" textLength="295" lengthAdjust="spacingAndGlyphs">被修饰的是不可数名词或复数可数名词一般须用such...that</text></g>
<g id="k11"><rect class="fg" x="393" y="1896" width="436" height="25" rx="4"/><text class="t tg" x="398" y="1908.5" textLength="426" lengthAdjust="spacingAndGlyphs">如果不可数名词或复数可数名词前有many，much，little，few修饰时，则用so...that</text></g>
<g id="k12"><rect class="fg" x="731" y="2070" width="273" height="24" rx="4"/><text class="t tg" x="736" y="2082" textLength="263" lengthAdjust="spacingAndGlyphs">如何判断so that引导的目的状语从句与结果状语从句</text></g>
<g id="k13"><rect class="fg" x="411" y="1946" width="297" height="24" rx="4"/><text class="t tg" x="416" y="1958" textLength="287" lengthAdjust="spacingAndGlyphs">当表达的含义是“为了”、“以便”时，为目的状语从句</text></g>
<g id="k14"><rect class="fg" x="401" y="1996" width="307" height="24" rx="4"/><text class="t tg" x="406" y="2008" textLength="297" lengthAdjust="spacingAndGlyphs">当表达的是“以至于”、“因此”含义时，为结果状语从句</text></g>
<g id="k15"><rect class="fg" x="316" y="2045" width="392" height="24" rx="4"/><text class="t tg" x="321" y="2057" textLength="382" lengthAdjust="spacingAndGlyphs">当从句的谓语动词有情态动词can, could, may, might等时，是目的状语从句</text></g>
<g id="k16"><rect class="fg" x="188" y="2095" width="520" height="24" rx="4"/><text class="t tg" x="193" y="2107" textLength="510" lengthAdjust="spacingAndGlyphs">当从句里没有情态动词，且谓语动词是一般现在时（过去时）、现在完成时等时态时，是结果状语从句</text></g>
<g id="k17"><rect class="fg" x="250" y="2144" width="458" height="25" rx="4"/><text class="t tg" x="255" y="2156.5" textLength="448" lengthAdjust="spacingAndGlyphs">当从句之前的so that可用in order that代替时，是目的状语从句；反之，是结果状语从句</text></g>
<g id="k18"><rect class="fg" x="358" y="2194" width="350" height="25" rx="4"/><text class="t tg" x="363" y="2206.5" textLength="340" lengthAdjust="spacingAndGlyphs">当so that之前有逗号时，是结果状语从句；反之，是目的状语从句</text></g>
<g id="k19"><rect x="48" y="1763" width="235" height="41" rx="4" fill="#4d44b5"/><text class="t tw" x="54" y="1777" textLength="222" lengthAdjust="spacingAndGlyphs">名前such，形、副so，多多少少也用so，littl</text><text class="t tw" x="54" y="1791">e属特殊，“小”用such，“少”用so</text></g>

<g id="watermark">
<text class="wm" x="367" y="705" transform="rotate(-32 367 705)">树图 shutu.cn</text>
<text class="wm" x="1633" y="705" transform="rotate(-32 1633 705)">树图 shutu.cn</text>
<text class="wm" x="362" y="1701" transform="rotate(-32 362 1701)">树图 shutu.cn</text>
<text class="wm" x="1633" y="1711" transform="rotate(-32 1633 1711)">树图 shutu.cn</text>
</g>
</svg>
